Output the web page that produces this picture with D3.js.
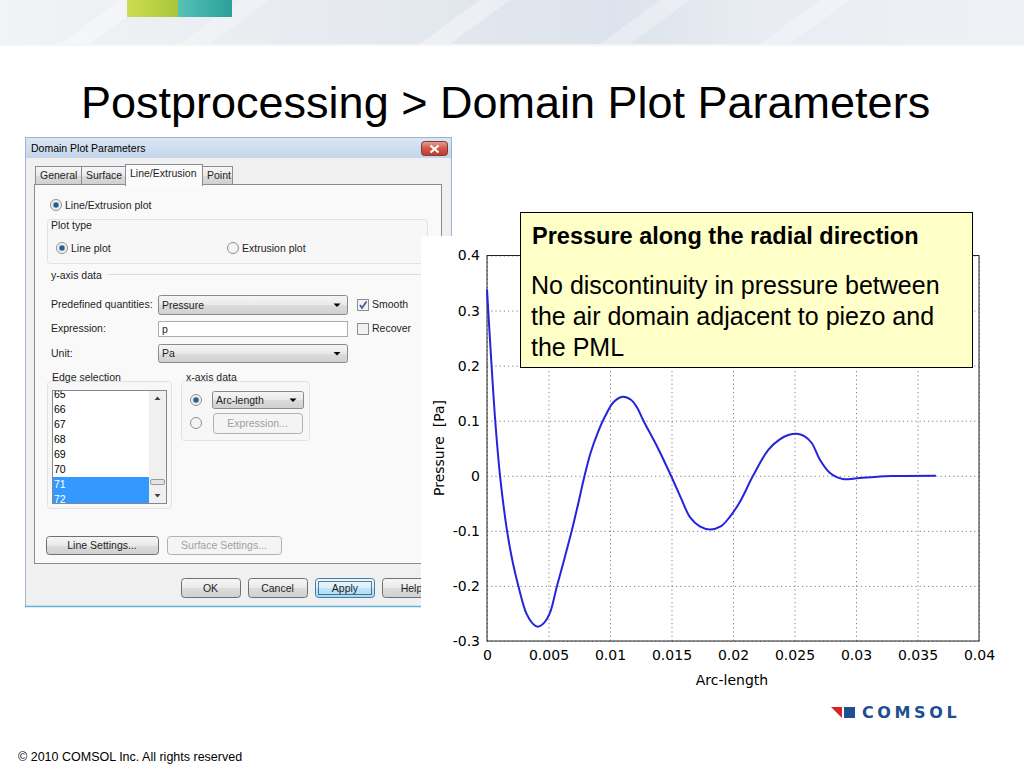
<!DOCTYPE html>
<html>
<head>
<meta charset="utf-8">
<script src="https://cdn.jsdelivr.net/npm/d3@7"></script>
<style>
  body { margin: 0; background: #fff; }
  svg { display: block; }
</style>
</head>
<body>
<div id="chart-area"></div>
<script>

// Data
let arcLength = [0, 0.0003, 0.00067, 0.00106, 0.00163, 0.0021, 0.00255, 0.0032, 0.0037, 0.00412,
  0.0046, 0.0051, 0.00569, 0.0063, 0.00689, 0.0074, 0.00788, 0.0084, 0.009, 0.0096, 0.0103,
  0.01103, 0.0117, 0.0122, 0.01272, 0.0139, 0.01496, 0.0158, 0.0165, 0.0173, 0.01813,
  0.019, 0.01976, 0.02057, 0.02163, 0.02287, 0.0238, 0.0245, 0.02518, 0.0258, 0.0264,
  0.02707, 0.02789, 0.02894, 0.02992, 0.03195, 0.033, 0.0365];
let pressure = [0.338, 0.226, 0.1, 0, -0.1, -0.158, -0.2, -0.25, -0.268, -0.274,
  -0.268, -0.25, -0.2, -0.15, -0.1, -0.052, -0.005, 0.04, 0.078, 0.108, 0.134,
  0.1436, 0.138, 0.124, 0.1, 0.05, 0, -0.042, -0.075, -0.092, -0.0975,
  -0.092, -0.074, -0.047, 0, 0.047, 0.066, 0.074, 0.0764, 0.072, 0.0595,
  0.029, 0.005, -0.006, -0.005, -0.0013, -0.0005, 0];

let xTicks = [0, 0.005, 0.01, 0.015, 0.02, 0.025, 0.03, 0.035, 0.04];
let yTicks = [-0.3, -0.2, -0.1, 0, 0.1, 0.2, 0.3, 0.4];

let slideTitle = "Postprocessing > Domain Plot Parameters";
let noteTitle = "Pressure along the radial direction";
let noteLines = ["No discontinuity in pressure between", "the air domain adjacent to piezo and", "the PML"];

let tabNames = ["General", "Surface", "Line/Extrusion", "Point"];
let edgeItems = ["65", "66", "67", "68", "69", "70", "71", "72"];
let selectedEdges = ["71", "72"];

let width = 1024, height = 768;

let svg = d3.select("#chart-area").append("svg")
    .attr("width", width)
    .attr("height", height);

let defs = svg.append("defs");

function linGrad(id, stops, vertical) {
  let g = defs.append("linearGradient").attr("id", id)
    .attr("x1", 0).attr("y1", 0)
    .attr("x2", vertical ? 0 : 1).attr("y2", vertical ? 1 : 0);
  stops.forEach(s => g.append("stop").attr("offset", s[0]).attr("stop-color", s[1]));
}
linGrad("banner", [[0, "#f1f3f6"], [0.35, "#e6eaf0"], [0.6, "#dde3ec"], [0.75, "#e9edf3"], [1, "#eef1f5"]]);
linGrad("titlebar", [[0, "#dbe6f4"], [1, "#c4d5ea"]], true);
linGrad("btn", [[0, "#f6f6f6"], [0.5, "#e9e9e9"], [0.51, "#dcdcdc"], [1, "#d0d0d0"]], true);
linGrad("btnApply", [[0, "#eaf6fd"], [0.5, "#d9f0fc"], [0.51, "#bee6fd"], [1, "#a7d9f5"]], true);
linGrad("close", [[0, "#e8a190"], [0.5, "#d1574a"], [1, "#c0392b"]], true);
linGrad("green", [[0, "#cedd52"], [1, "#a9c53a"]]);
linGrad("teal", [[0, "#55c2b8"], [1, "#2b9f98"]]);

// ---------- slide banner ----------
svg.append("rect").attr("x", 0).attr("y", 0).attr("width", width).attr("height", 44)
  .attr("fill", "url(#banner)");
[[60, 0.35], [180, 0.25], [420, 0.35], [600, 0.3], [760, 0.25]].forEach(s => {
  svg.append("path")
    .attr("d", `M${s[0]},44 L${s[0] + 60},0 L${s[0] + 90},0 L${s[0] + 30},44 Z`)
    .attr("fill", "#ffffff").attr("opacity", s[1]);
});
svg.append("rect").attr("x", 0).attr("y", 44).attr("width", width).attr("height", 2)
  .attr("fill", "#f4f5f7");
svg.append("rect").attr("x", 127).attr("y", 0).attr("width", 51).attr("height", 17).attr("fill", "url(#green)");
svg.append("rect").attr("x", 178).attr("y", 0).attr("width", 54).attr("height", 17).attr("fill", "url(#teal)");

// ---------- slide title ----------
svg.append("text")
  .attr("x", 81).attr("y", 118)
  .attr("font-family", "Liberation Sans, Arial, sans-serif")
  .attr("font-size", 45)
  .attr("fill", "#000")
  .text(slideTitle);

// ---------- dialog (screenshot) ----------
let dlg = svg.append("g")
  .attr("font-family", "Liberation Sans, Arial, sans-serif")
  .attr("font-size", 10.5);

function label(x, y, t, color, anchor) {
  return dlg.append("text").attr("x", x).attr("y", y)
    .attr("fill", color || "#1e1e1e")
    .attr("text-anchor", anchor || "start")
    .text(t);
}
function button(x, y, w, h, t, disabled, fill) {
  dlg.append("rect").attr("x", x + 0.5).attr("y", y + 0.5).attr("width", w).attr("height", h)
    .attr("rx", 3).attr("fill", disabled ? "#f4f4f4" : (fill || "url(#btn)"))
    .attr("stroke", disabled ? "#adb2b5" : "#707070");
  label(x + w / 2, y + h / 2 + 4, t, disabled ? "#a0a0a0" : "#1e1e1e", "middle");
}
function radio(cx, cy, checked) {
  dlg.append("circle").attr("cx", cx).attr("cy", cy).attr("r", 5.5)
    .attr("fill", "#f4f4f4").attr("stroke", "#8e8f8f");
  if (checked) {
    dlg.append("circle").attr("cx", cx).attr("cy", cy).attr("r", 3)
      .attr("fill", "#2b5b8c").attr("stroke", "#9ccbe8").attr("stroke-width", 0.8);
  }
}
function checkbox(x, y, checked) {
  dlg.append("rect").attr("x", x + 0.5).attr("y", y + 0.5).attr("width", 11).attr("height", 11)
    .attr("fill", "#f2f2f2").attr("stroke", "#8e8f8f");
  if (checked) {
    dlg.append("path").attr("d", `M${x + 3},${y + 6} L${x + 5},${y + 9} L${x + 9.5},${y + 2.5}`)
      .attr("fill", "none").attr("stroke", "#4a5f97").attr("stroke-width", 1.8);
  }
}
function dropdown(x, y, w, h, t) {
  dlg.append("rect").attr("x", x + 0.5).attr("y", y + 0.5).attr("width", w).attr("height", h)
    .attr("rx", 2).attr("fill", "url(#btn)").attr("stroke", "#8a8a8a");
  label(x + 4, y + h / 2 + 4, t);
  let ax = x + w - 10, ay = y + h / 2 - 1;
  dlg.append("path").attr("d", `M${ax - 3.5},${ay} L${ax + 3.5},${ay} L${ax},${ay + 3.5} Z`).attr("fill", "#000");
}
function groupBox(x, y, w, h) {
  dlg.append("rect").attr("x", x + 0.5).attr("y", y + 0.5).attr("width", w).attr("height", h)
    .attr("rx", 3).attr("fill", "#f7f7f7").attr("stroke", "#e2e2e2");
}

// frame and title bar
dlg.append("rect").attr("x", 25.5).attr("y", 137.5).attr("width", 426).attr("height", 469)
  .attr("fill", "#f0f0f0").attr("stroke", "#9fb4cc");
dlg.append("rect").attr("x", 26).attr("y", 138).attr("width", 425).attr("height", 20)
  .attr("fill", "url(#titlebar)");
label(31, 152, "Domain Plot Parameters", "#000");
dlg.append("rect").attr("x", 421.5).attr("y", 141.5).attr("width", 26).attr("height", 14)
  .attr("rx", 3).attr("fill", "url(#close)").attr("stroke", "#7d3a32");
dlg.append("path").attr("d", "M430.5,145.5 L438.5,152.5 M438.5,145.5 L430.5,152.5")
  .attr("stroke", "#fff").attr("stroke-width", 2.2);

// tab page
dlg.append("rect").attr("x", 34.5).attr("y", 184.5).attr("width", 407).attr("height", 379)
  .attr("fill", "#f9f9f9").attr("stroke", "#898c95");

// tabs
let tabX = [35, 81, 125, 202];
let tabW = [46, 44, 77, 30];
tabNames.forEach((t, i) => {
  let sel = t === "Line/Extrusion";
  dlg.append("rect")
    .attr("x", tabX[i] + 0.5).attr("y", sel ? 164.5 : 166.5)
    .attr("width", tabW[i]).attr("height", sel ? 21 : 18)
    .attr("fill", sel ? "#fbfbfb" : "url(#btn)")
    .attr("stroke", "#898c95");
  label(tabX[i] + 5, sel ? 177 : 179, t);
});
dlg.append("rect").attr("x", 126).attr("y", 183).attr("width", 76).attr("height", 3).attr("fill", "#fbfbfb");

// top options
radio(56, 205, true);
label(65, 209, "Line/Extrusion plot");
groupBox(47, 219, 380, 44);
label(51, 229, "Plot type");
radio(62, 248, true);
label(71, 252, "Line plot");
radio(233, 248, false);
label(242, 252, "Extrusion plot");

label(51, 279, "y-axis data");
dlg.append("line").attr("x1", 108).attr("x2", 430).attr("y1", 274.5).attr("y2", 274.5).attr("stroke", "#dcdcdc");

label(51, 308, "Predefined quantities:");
dropdown(158, 295, 189, 19, "Pressure");
checkbox(357, 299, true);
label(372, 308, "Smooth");

label(51, 332, "Expression:");
dlg.append("rect").attr("x", 158.5).attr("y", 321.5).attr("width", 189).attr("height", 15)
  .attr("fill", "#fff").attr("stroke", "#abadb3");
label(162, 333, "p");
checkbox(357, 323, false);
label(372, 332, "Recover");

label(51, 357, "Unit:");
dropdown(158, 344, 189, 18, "Pa");

// edge selection list
groupBox(47, 381, 124, 127);
label(52, 381, "Edge selection");
dlg.append("rect").attr("x", 52.5).attr("y", 390.5).attr("width", 114).attr("height", 113)
  .attr("fill", "#fff").attr("stroke", "#828790");
defs.append("clipPath").attr("id", "listClip")
  .append("rect").attr("x", 53).attr("y", 391).attr("width", 96).attr("height", 112);
let list = dlg.append("g").attr("clip-path", "url(#listClip)");
let itemY = d3.scaleBand().domain(edgeItems).range([384, 504]);
list.selectAll("rect.sel")
  .data(edgeItems.filter(d => selectedEdges.includes(d)))
  .enter().append("rect")
  .attr("class", "sel")
  .attr("x", 53).attr("y", d => itemY(d) + 3)
  .attr("width", 96).attr("height", itemY.bandwidth())
  .attr("fill", "#3399ff");
list.selectAll("text")
  .data(edgeItems)
  .enter().append("text")
  .attr("x", 54).attr("y", d => itemY(d) + 14)
  .attr("fill", d => selectedEdges.includes(d) ? "#fff" : "#000")
  .text(d => d);
// scrollbar
dlg.append("rect").attr("x", 149).attr("y", 391).attr("width", 17).attr("height", 112).attr("fill", "#f0f0f0");
dlg.append("path").attr("d", "M154.5,400 L160.5,400 L157.5,396.5 Z").attr("fill", "#404040");
dlg.append("path").attr("d", "M154.5,494 L160.5,494 L157.5,497.5 Z").attr("fill", "#404040");
dlg.append("rect").attr("x", 150.5).attr("y", 479.5).attr("width", 14).attr("height", 5).attr("rx", 1.5)
  .attr("fill", "#e4e4e4").attr("stroke", "#999");

// x-axis data group
groupBox(181, 381, 128, 59);
label(186, 381, "x-axis data");
radio(196, 400, true);
dropdown(212, 391, 91, 17, "Arc-length");
radio(196, 423, false);
button(213, 413, 89, 20, "Expression...", true);

// buttons
button(46, 536, 112, 18, "Line Settings...", false);
button(167, 536, 114, 18, "Surface Settings...", true);
button(181, 578, 59, 19, "OK", false);
button(248, 578, 59, 19, "Cancel", false);
dlg.append("rect").attr("x", 315.5).attr("y", 578.5).attr("width", 59).attr("height", 19)
  .attr("rx", 3).attr("fill", "url(#btnApply)").attr("stroke", "#3c7fb1");
dlg.append("rect").attr("x", 318.5).attr("y", 581.5).attr("width", 53).attr("height", 13)
  .attr("fill", "none").attr("stroke", "#000").attr("stroke-dasharray", "1,1");
label(345, 592, "Apply", "#1e1e1e", "middle");
button(382, 578, 59, 19, "Help", false);
dlg.append("line").attr("x1", 25).attr("x2", 452).attr("y1", 606.5).attr("y2", 606.5)
  .attr("stroke", "#5fb3d6").attr("stroke-width", 1.5);

// ---------- plot panel ----------
svg.append("rect").attr("x", 421).attr("y", 236).attr("width", 603).attr("height", 470).attr("fill", "#fff");

let plotLeft = 487, plotRight = 979, plotTop = 255.5, plotBottom = 641;
let plot = svg.append("g")
  .attr("font-family", "DejaVu Sans, Verdana, sans-serif");

let x = d3.scaleLinear().domain([0, 0.04]).range([plotLeft, plotRight]);
let y = d3.scaleLinear().domain([-0.3, 0.4]).range([plotBottom, plotTop]);

// grid
let xGrid = plot.append("g")
  .attr("transform", "translate(0," + plotBottom + ")")
  .call(d3.axisBottom(x).tickValues(xTicks).tickSize(-(plotBottom - plotTop)).tickFormat(""));
let yGrid = plot.append("g")
  .attr("transform", "translate(" + plotLeft + ",0)")
  .call(d3.axisLeft(y).tickValues(yTicks).tickSize(-(plotRight - plotLeft)).tickFormat(""));
[xGrid, yGrid].forEach(g => {
  g.select(".domain").remove();
  g.selectAll("line").attr("stroke", "#808080").attr("stroke-dasharray", "1.2,3");
});

// axes labels
let xAxis = plot.append("g")
  .attr("transform", "translate(0," + plotBottom + ")")
  .call(d3.axisBottom(x).tickValues(xTicks).tickSize(0).tickPadding(9).tickFormat(d => String(d)));
let yAxis = plot.append("g")
  .attr("transform", "translate(" + plotLeft + ",0)")
  .call(d3.axisLeft(y).tickValues(yTicks).tickSize(0).tickPadding(7).tickFormat(d => String(d)));
[xAxis, yAxis].forEach(g => {
  g.select(".domain").remove();
  g.selectAll("text").attr("font-family", "DejaVu Sans, Verdana, sans-serif")
    .attr("font-size", 14).attr("fill", "#000");
});

// frame
plot.append("rect")
  .attr("x", plotLeft).attr("y", plotTop)
  .attr("width", plotRight - plotLeft).attr("height", plotBottom - plotTop)
  .attr("fill", "none").attr("stroke", "#222").attr("stroke-width", 1);

// curve
let line = d3.line()
  .x((d, i) => x(arcLength[i]))
  .y(d => y(d))
  .curve(d3.curveCatmullRom.alpha(0.5));
plot.append("path")
  .datum(pressure)
  .attr("d", line)
  .attr("fill", "none")
  .attr("stroke", "#2424dc")
  .attr("stroke-width", 2);

plot.append("text")
  .attr("x", (plotLeft + plotRight) / 2 - 1).attr("y", 685)
  .attr("text-anchor", "middle").attr("font-size", 14)
  .text("Arc-length");
plot.append("text")
  .attr("transform", "translate(444," + 448 + ") rotate(-90)")
  .attr("text-anchor", "middle").attr("font-size", 14)
  .style("white-space", "pre")
  .text("Pressure  [Pa]");

// ---------- note box ----------
let note = svg.append("g").attr("font-family", "Liberation Sans, Arial, sans-serif");
note.append("rect").attr("x", 520.5).attr("y", 212.5).attr("width", 452).attr("height", 155)
  .attr("fill", "#ffffc8").attr("stroke", "#000").attr("stroke-width", 1);
note.append("text").attr("x", 532).attr("y", 244)
  .attr("font-size", 23.5).attr("font-weight", "bold").text(noteTitle);
note.selectAll("text.body")
  .data(noteLines)
  .enter().append("text")
  .attr("class", "body")
  .attr("x", 531).attr("y", (d, i) => 294 + i * 31)
  .attr("font-size", 25)
  .text(d => d);

// ---------- footer ----------
let logo = svg.append("g");
logo.append("path").attr("d", "M831,707 L842,707 L842,718 Z").attr("fill", "#d8232a");
logo.append("rect").attr("x", 844).attr("y", 707).attr("width", 11).attr("height", 11).attr("fill", "#1d4f91");
logo.append("text").attr("x", 862).attr("y", 718)
  .attr("font-family", "DejaVu Sans, sans-serif").attr("font-weight", "bold")
  .attr("font-size", 16).attr("letter-spacing", 3.6).attr("fill", "#1d4f91")
  .text("COMSOL");

svg.append("text").attr("x", 18).attr("y", 761)
  .attr("font-family", "Liberation Sans, Arial, sans-serif").attr("font-size", 12.5)
  .text("© 2010 COMSOL Inc. All rights reserved");

</script>
</body>
</html>
